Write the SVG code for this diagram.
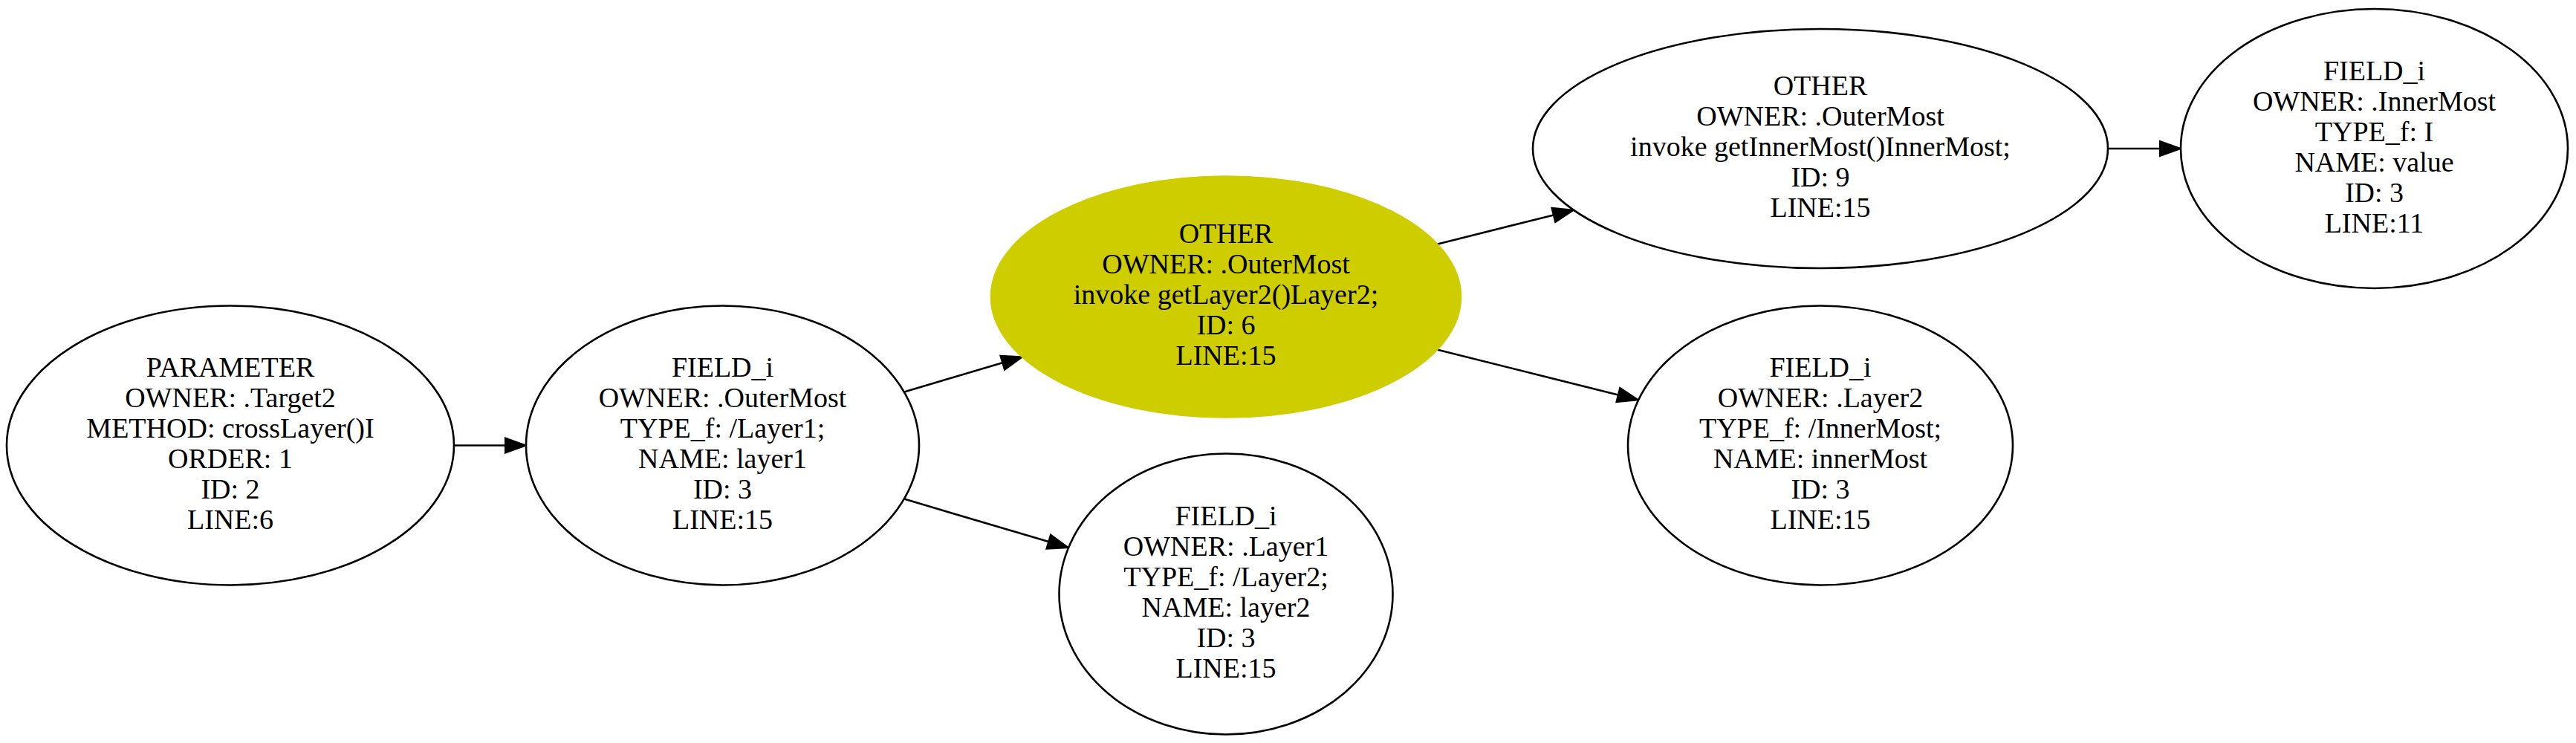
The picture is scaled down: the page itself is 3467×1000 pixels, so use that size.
<svg xmlns="http://www.w3.org/2000/svg" width="3467" height="1000" viewBox="0 0 3467 1000">
<style>
.n ellipse{fill:#ffffff;stroke:#000000;stroke-width:2.6}
.n.hl ellipse{fill:#cdcd00;stroke:#cdcd00}
.n text{font-family:"Liberation Serif","Times New Roman",serif;font-size:38px;text-anchor:middle;fill:#000000}
.e{stroke:#000000;stroke-width:2.6;fill:none}
</style>
<defs>
<marker id="ah" markerUnits="userSpaceOnUse" orient="auto" refX="0" refY="0" markerWidth="30" markerHeight="22" viewBox="0 -11 30 22" overflow="visible">
<path d="M0,-10 L28,0 L0,10 z" fill="#000000" stroke="#000000" stroke-width="2"/>
</marker>
</defs>
<rect width="3467" height="1000" fill="#ffffff"/>
<g id="connectors">
<path class="e" d="M611,599.5 L680,599.5" marker-end="url(#ah)"/>
<path class="e" d="M1217,527.4 L1349.2,488.3" marker-end="url(#ah)"/>
<path class="e" d="M1217,671.6 L1411.2,729.1" marker-end="url(#ah)"/>
<path class="e" d="M1934,328.7 L2090.8,289.5" marker-end="url(#ah)"/>
<path class="e" d="M1934,470.5 L2177.8,531.5" marker-end="url(#ah)"/>
<path class="e" d="M2837,200 L2907,200" marker-end="url(#ah)"/>
</g>
<g id="node_param" class="n">
<ellipse cx="310" cy="599.5" rx="301" ry="188"/>
<text x="310" y="507">PARAMETER</text>
<text x="310" y="548">OWNER: .Target2</text>
<text x="310" y="589">METHOD: crossLayer()I</text>
<text x="310" y="630">ORDER: 1</text>
<text x="310" y="671">ID: 2</text>
<text x="310" y="712">LINE:6</text>
</g>
<g id="node_layer1" class="n">
<ellipse cx="972.5" cy="599.5" rx="264.5" ry="188"/>
<text x="972.5" y="507">FIELD_i</text>
<text x="972.5" y="548">OWNER: .OuterMost</text>
<text x="972.5" y="589">TYPE_f: /Layer1;</text>
<text x="972.5" y="630">NAME: layer1</text>
<text x="972.5" y="671">ID: 3</text>
<text x="972.5" y="712">LINE:15</text>
</g>
<g id="node_getLayer2" class="n hl">
<ellipse cx="1650" cy="399.5" rx="316" ry="162"/>
<text x="1650" y="327">OTHER</text>
<text x="1650" y="368">OWNER: .OuterMost</text>
<text x="1650" y="409">invoke getLayer2()Layer2;</text>
<text x="1650" y="450">ID: 6</text>
<text x="1650" y="491">LINE:15</text>
</g>
<g id="node_layer2" class="n">
<ellipse cx="1650" cy="799.5" rx="224.5" ry="189"/>
<text x="1650" y="707">FIELD_i</text>
<text x="1650" y="748">OWNER: .Layer1</text>
<text x="1650" y="789">TYPE_f: /Layer2;</text>
<text x="1650" y="830">NAME: layer2</text>
<text x="1650" y="871">ID: 3</text>
<text x="1650" y="912">LINE:15</text>
</g>
<g id="node_getInnerMost" class="n">
<ellipse cx="2450" cy="200" rx="387" ry="161"/>
<text x="2450" y="127.5">OTHER</text>
<text x="2450" y="168.5">OWNER: .OuterMost</text>
<text x="2450" y="209.5">invoke getInnerMost()InnerMost;</text>
<text x="2450" y="250.5">ID: 9</text>
<text x="2450" y="291.5">LINE:15</text>
</g>
<g id="node_value" class="n">
<ellipse cx="3195.5" cy="200" rx="260.5" ry="188"/>
<text x="3195.5" y="107.5">FIELD_i</text>
<text x="3195.5" y="148.5">OWNER: .InnerMost</text>
<text x="3195.5" y="189.5">TYPE_f: I</text>
<text x="3195.5" y="230.5">NAME: value</text>
<text x="3195.5" y="271.5">ID: 3</text>
<text x="3195.5" y="312.5">LINE:11</text>
</g>
<g id="node_innerMost" class="n">
<ellipse cx="2450" cy="599.5" rx="259" ry="188"/>
<text x="2450" y="507">FIELD_i</text>
<text x="2450" y="548">OWNER: .Layer2</text>
<text x="2450" y="589">TYPE_f: /InnerMost;</text>
<text x="2450" y="630">NAME: innerMost</text>
<text x="2450" y="671">ID: 3</text>
<text x="2450" y="712">LINE:15</text>
</g>
</svg>
